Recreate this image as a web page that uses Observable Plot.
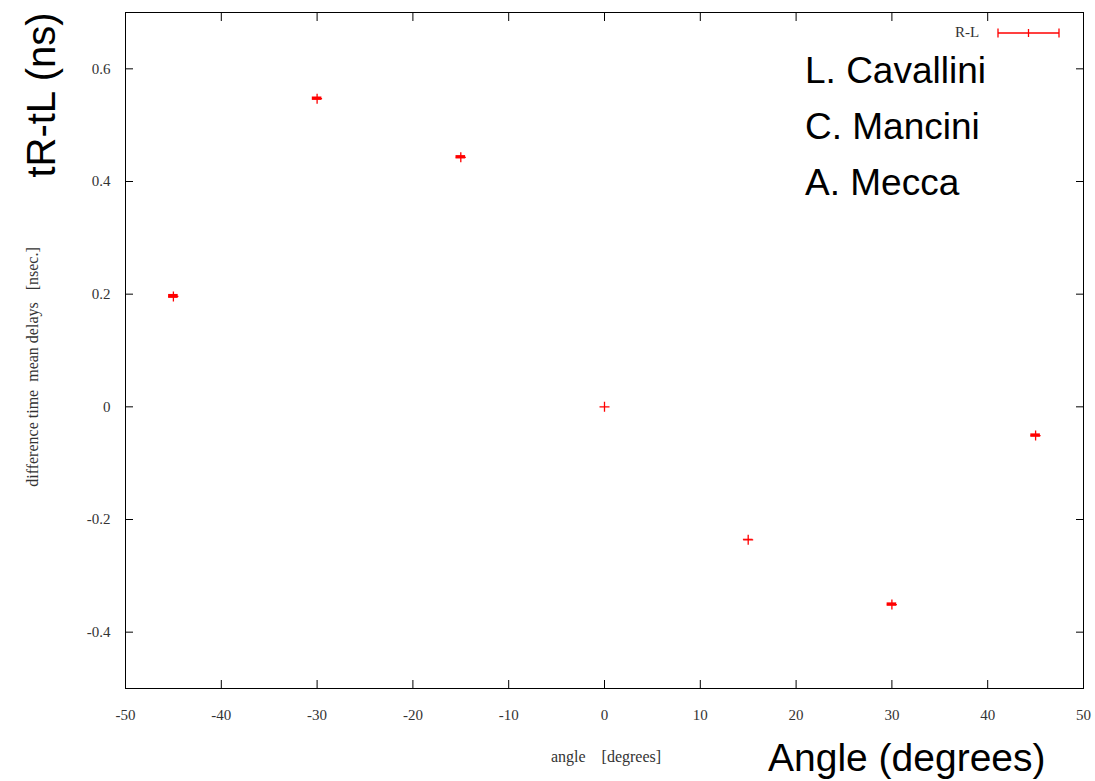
<!DOCTYPE html>
<html><head><meta charset="utf-8">
<script src="https://cdn.jsdelivr.net/npm/d3@7"></script>
<script src="https://cdn.jsdelivr.net/npm/@observablehq/plot@0.6"></script>
<style>
body{margin:0;background:#fff;}
#wrap{position:relative;width:1095px;height:781px;overflow:hidden;}
.ov{position:absolute;white-space:pre;line-height:1;}
.serif{font-family:"Liberation Serif","DejaVu Serif",serif;color:#333;}
.sans{font-family:"Liberation Sans",Arial,sans-serif;color:#000;}
</style></head><body><div id="wrap"></div>
<script>
const angles = [-45, -30, -15, 0, 15, 30, 45];
const delays = [0.196, 0.547, 0.443, 0, -0.236, -0.351, -0.051];
const yErr = [0.0035, 0.003, 0.003, 0, 0.001, 0.003, 0.003];
const xTicks = [-50, -40, -30, -20, -10, 0, 10, 20, 30, 40, 50];
const yTicks = [-0.4, -0.2, 0, 0.2, 0.4, 0.6];
const authors = ["L. Cavallini", "C. Mancini", "A. Mecca"];
const seriesName = "R-L";

const data = angles.map((a, i) => ({x: a, y: delays[i], e: yErr[i]}));
const plusStroke = {
  draw(ctx, size) {
    const r = Math.sqrt(size / Math.PI);
    ctx.moveTo(-r, 0); ctx.lineTo(r, 0);
    ctx.moveTo(0, -r); ctx.lineTo(0, r);
  }
};

const chart = Plot.plot({
  width: 1095, height: 781,
  marginLeft: 125, marginRight: 12, marginTop: 12, marginBottom: 93,
  style: {fontFamily: "'Liberation Serif', 'DejaVu Serif', serif", fontSize: "15px", color: "#333", background: "#fff"},
  x: {domain: [-50, 50]},
  y: {domain: [-0.5, 0.7]},
  marks: [
    Plot.frame({stroke: "#000", strokeWidth: 1}),
    Plot.axisX(xTicks, {anchor: "bottom", tickSize: 0, tickPadding: 21, label: null, tickFormat: d => String(d)}),
    Plot.axisX(xTicks, {anchor: "bottom", tickSize: -8, tickFormat: () => "", label: null, stroke: "#000"}),
    Plot.axisX(xTicks, {anchor: "top", tickSize: -8, tickFormat: () => "", label: null, stroke: "#000"}),
    Plot.axisY(yTicks, {anchor: "left", tickSize: 0, tickPadding: 15, label: null, tickFormat: d => String(d)}),
    Plot.axisY(yTicks, {anchor: "left", tickSize: -8, tickFormat: () => "", label: null, stroke: "#000"}),
    Plot.axisY(yTicks, {anchor: "right", tickSize: -8, tickFormat: () => "", label: null, stroke: "#000"}),
    Plot.rect(data.filter(d => d.e > 0), {x1: d => d.x - 0.5, x2: d => d.x + 0.5, y1: d => d.y - d.e, y2: d => d.y + d.e, fill: "#ff0000"}),
    Plot.dot(data, {x: "x", y: "y", symbol: plusStroke, r: 5, stroke: "#ff0000", fill: "none", strokeWidth: 1.3})
  ]
});
const wrap = document.getElementById("wrap");
wrap.appendChild(chart);

function ov(text, cls, css) {
  const d = document.createElement("div");
  d.className = "ov " + cls;
  d.textContent = text;
  Object.assign(d.style, css);
  wrap.appendChild(d);
  return d;
}
// axis labels (original gnuplot)
ov("difference time  mean delays   [nsec.]", "serif", {left: "33px", top: "367px", fontSize: "16px", transform: "translate(-50%,-50%) rotate(-90deg)"});
ov("angle    [degrees]", "serif", {left: "606px", top: "757px", fontSize: "16px", transform: "translate(-50%,-50%)"});
// legend
ov(seriesName, "serif", {left: "955px", top: "25px", fontSize: "15px"});
const ls = document.createElementNS("http://www.w3.org/2000/svg", "svg");
ls.setAttribute("width", "70"); ls.setAttribute("height", "14");
ls.style.position = "absolute"; ls.style.left = "994px"; ls.style.top = "26px";
ls.innerHTML = '<g stroke="#ff0000" stroke-width="1.3"><line x1="4" y1="7" x2="65" y2="7"/><line x1="4" y1="2.5" x2="4" y2="11.5"/><line x1="65" y1="2.5" x2="65" y2="11.5"/><line x1="34.5" y1="3" x2="34.5" y2="11"/></g>';
wrap.appendChild(ls);
// big annotations
ov("tR-tL (ns)", "sans", {left: "41px", top: "95px", fontSize: "40px", transform: "translate(-50%,-50%) rotate(-90deg)"});
ov("Angle (degrees)", "sans", {left: "768px", top: "738px", fontSize: "39px"});
authors.forEach((a, i) => ov(a, "sans", {left: "805px", top: (52 + i * 56) + "px", fontSize: "37px"}));
</script>
</body></html>
